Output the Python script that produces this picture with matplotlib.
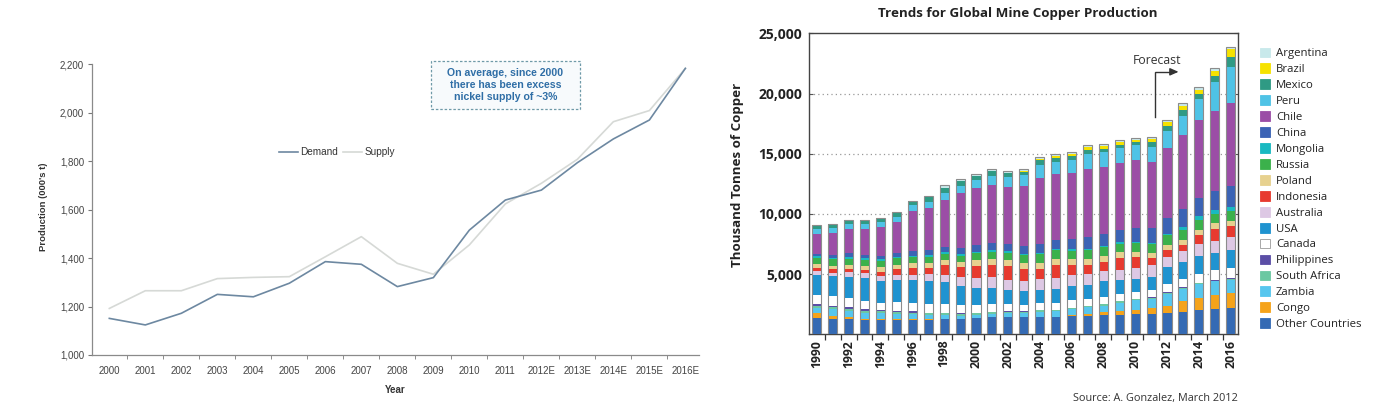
import numpy as np
import matplotlib
matplotlib.use("Agg")
import matplotlib.pyplot as plt
from matplotlib.patches import Patch, FancyBboxPatch
from matplotlib import font_manager as fm

# ---------------- Left chart data (nickel) ----------------
nickel_years = ["2000", "2001", "2002", "2003", "2004", "2005", "2006", "2007", "2008",
                "2009", "2010", "2011", "2012E", "2013E", "2014E", "2015E", "2016E"]
demand = [1151, 1124, 1172, 1250, 1240, 1296, 1385, 1374, 1282, 1319, 1515, 1639,
          1680, 1793, 1891, 1969, 2182]
supply = [1192, 1265, 1265, 1315, 1320, 1323, 1405, 1488, 1378, 1333, 1454, 1623,
          1708, 1807, 1962, 2008, 2182]

# ---------------- Right chart data (copper, thousand tonnes) ----------------
years = list(range(1990, 2017))
other = [1330, 1280, 1280, 1190, 1190, 1190, 1190, 1190, 1250, 1250, 1330, 1400, 1400, 1400,
         1420, 1420, 1500, 1560, 1600, 1620, 1650, 1680, 1750, 1890, 2000, 2110, 2220]
congo = [420, 280, 190, 90, 50, 40, 40, 40, 40, 30, 30, 20, 20, 20, 30, 50, 120, 150, 230,
         320, 400, 480, 640, 890, 1000, 1170, 1200]
zambia = [450, 500, 500, 520, 510, 450, 420, 360, 320, 280, 250, 300, 330, 350, 420, 440,
          480, 520, 560, 700, 770, 760, 960, 1010, 1150, 1110, 1090]
south_africa = [150, 170, 170, 170, 160, 160, 150, 150, 140, 130, 140, 130, 130, 120, 110,
                100, 100, 100, 100, 100, 100, 100, 80, 80, 70, 70, 70]
philippines = [130, 140, 160, 130, 120, 120, 110, 60, 50, 40, 30, 20, 20, 20, 20, 20, 20,
               20, 20, 30, 40, 50, 70, 70, 80, 80, 80]
canada = [820, 850, 720, 700, 610, 720, 680, 700, 700, 690, 630, 640, 600, 560, 560, 600,
          610, 600, 610, 540, 550, 580, 650, 630, 700, 790, 840]
usa = [1600, 1600, 1780, 1870, 1810, 1850, 1920, 1940, 1860, 1600, 1440, 1340, 1140, 1120,
       1160, 1140, 1190, 1170, 1310, 1200, 1120, 1150, 1470, 1440, 1530, 1390, 1530]
australia = [360, 300, 360, 410, 420, 410, 440, 560, 600, 740, 830, 870, 870, 830, 850, 930,
             900, 870, 860, 850, 870, 950, 830, 920, 940, 1030, 1030]
indonesia = [220, 270, 280, 280, 320, 460, 520, 530, 800, 790, 1000, 1050, 1170, 1000, 850,
             1060, 820, 800, 750, 1000, 900, 560, 560, 470, 780, 970, 910]
poland = [320, 280, 280, 330, 360, 380, 420, 420, 430, 460, 460, 470, 500, 500, 530, 520,
          500, 450, 430, 440, 430, 430, 410, 450, 420, 500, 420]
russia = [570, 560, 570, 520, 550, 530, 520, 500, 500, 520, 580, 600, 600, 640, 680, 700,
          720, 740, 750, 740, 720, 750, 800, 850, 830, 750, 830]
mongolia = [130, 120, 120, 120, 120, 120, 120, 120, 120, 120, 130, 130, 130, 130, 130, 130,
            130, 130, 130, 130, 130, 130, 130, 220, 300, 360, 340]
china = [200, 250, 360, 280, 250, 320, 430, 430, 480, 520, 590, 590, 590, 620, 740, 760, 830,
         930, 950, 1000, 1150, 1250, 1320, 1470, 1530, 1590, 1750]
chile = [1620, 1820, 2000, 2140, 2450, 2590, 3320, 3480, 3900, 4550, 4720, 4880, 4700, 5040,
         5460, 5410, 5500, 5700, 5600, 5570, 5610, 5450, 5780, 6200, 6450, 6660, 6860]
peru = [410, 410, 420, 420, 380, 410, 420, 500, 550, 560, 630, 720, 840, 840, 1080, 1010,
        1050, 1240, 1270, 1250, 1250, 1250, 1450, 1580, 1750, 2360, 3000]
mexico = [300, 300, 280, 300, 300, 340, 340, 390, 380, 420, 360, 370, 330, 330, 400, 390,
          340, 340, 250, 240, 250, 400, 400, 460, 410, 500, 830]
brazil = [30, 30, 30, 30, 30, 40, 40, 40, 40, 30, 30, 30, 30, 30, 100, 130, 150, 200, 220,
          230, 220, 280, 300, 370, 340, 420, 700]
argentina = [20, 20, 20, 20, 20, 20, 20, 60, 200, 210, 150, 190, 200, 200, 180, 190, 180,
             180, 160, 140, 140, 170, 180, 200, 220, 220, 200]

# stacking order bottom -> top
series = [
    ("Other Countries", other, "#346ab4"),
    ("Congo", congo, "#f5a31a"),
    ("Zambia", zambia, "#56c6ee"),
    ("South Africa", south_africa, "#6cc8a2"),
    ("Philippines", philippines, "#5b4ea6"),
    ("Canada", canada, "#ffffff"),
    ("USA", usa, "#1f93d0"),
    ("Australia", australia, "#ddc8e4"),
    ("Indonesia", indonesia, "#e73a2f"),
    ("Poland", poland, "#e7d18f"),
    ("Russia", russia, "#3bb14b"),
    ("Mongolia", mongolia, "#19b9c1"),
    ("China", china, "#3b63b5"),
    ("Chile", chile, "#9b4ea6"),
    ("Peru", peru, "#4fc3e6"),
    ("Mexico", mexico, "#2f9a84"),
    ("Brazil", brazil, "#f6e200"),
    ("Argentina", argentina, "#c8e9eb"),
]

# pick a family that really has a bold face
def has_bold(fam):
    for f in fm.fontManager.ttflist:
        if f.name == fam and f.weight in (600, 700, 800, "bold", "semibold"):
            return True
    return False

rf = "Noto Sans"
for cand in ["Open Sans", "Noto Sans", "Lato", "DejaVu Sans"]:
    if has_bold(cand):
        rf = cand
        break
lf = "Liberation Sans"

fig = plt.figure(figsize=(13.76, 4.07), dpi=100)
W, H = 1376.0, 407.0

# ================= LEFT CHART =================
axL = fig.add_axes([92.4 / W, 1 - 355 / H, 606.3 / W, 291 / H])
xi = np.arange(len(nickel_years))
axL.plot(xi, supply, color="#d6d9d6", lw=1.2, zorder=2)
axL.plot(xi, demand, color="#6d88a1", lw=1.2, zorder=3)
axL.set_xlim(-0.47, 16.37)
axL.set_ylim(1000, 2200)
axL.set_yticks(range(1000, 2201, 200))
axL.set_yticklabels([f"{v:,}" for v in range(1000, 2201, 200)], fontsize=7,
                    color="#444444", family=lf)
axL.set_xticks(xi)
axL.set_xticklabels(nickel_years, fontsize=7, color="#444444", family=lf)
axL.set_xticks(np.arange(0.5, 16.5, 1), minor=True)
axL.tick_params(axis="x", which="major", length=0, pad=8)
axL.tick_params(axis="x", which="minor", length=3, color="#777777", direction="out")
axL.tick_params(axis="y", length=3, color="#777777", pad=3)
for s in ["top", "right"]:
    axL.spines[s].set_visible(False)
for s in ["left", "bottom"]:
    axL.spines[s].set_color("#8a8a8a")
    axL.spines[s].set_linewidth(0.9)

h_d, = axL.plot([], [], color="#6d88a1", lw=1.2)
h_s, = axL.plot([], [], color="#d6d9d6", lw=1.2)
axL.legend([h_d, h_s], ["Demand", "Supply"], ncol=2, frameon=False,
           loc="center", bbox_to_anchor=((337 - 92.4) / 606.3, (355 - 152) / 291),
           prop={"family": lf, "size": 7.2}, handlelength=1.9, handletextpad=0.25,
           columnspacing=0.5, labelcolor="#333333")

fig.text(43.8 / W, 1 - 207 / H, "Production (000's t)", rotation=90, ha="center",
         va="center", fontsize=6.8, fontweight="bold", color="#333333", family=lf)
fig.text(395 / W, 1 - 390 / H, "Year", ha="center", va="center", fontsize=7,
         fontweight="bold", color="#333333", family=lf)

box = FancyBboxPatch((431 / W, 1 - 109.3 / H), 149 / W, 48.6 / H,
                     boxstyle="square,pad=0", transform=fig.transFigure,
                     facecolor="#f7fafc", edgecolor="#6f9aa8", lw=0.9,
                     linestyle=(0, (2, 1.5)))
fig.add_artist(box)
fig.text(505.5 / W, 1 - 85 / H,
         "On average, since 2000\nthere has been excess\nnickel supply of ~3%",
         ha="center", va="center", fontsize=7.6, fontweight="bold", color="#2f6ea6",
         family=lf, linespacing=1.3)

# ================= RIGHT CHART =================
axR = fig.add_axes([809.3 / W, 1 - 334.3 / H, 429 / W, 301 / H])
bw = 0.57
bottom = np.zeros(len(years))
for name, vals, col in series:
    axR.bar(years, vals, bw, bottom=bottom, color=col, lw=0, zorder=3)
    bottom += np.array(vals, dtype=float)
axR.bar(years, bottom, bw, fill=False, edgecolor="#8c8c8c", lw=0.8, zorder=4)

axR.set_xlim(1989.53, 2016.48)
axR.set_ylim(0, 25000)
yt = [5000, 10000, 15000, 20000, 25000]
axR.set_yticks(yt)
axR.set_yticklabels([f"{v:,}" for v in yt], fontsize=10, fontweight="bold",
                    family=rf, color="#222222")
for v in yt[:-1]:
    axR.axhline(v, color="#999999", lw=0.9, ls=(0, (1, 2.5)), zorder=1)
axR.set_xticks(years[::2])
axR.set_xticklabels([str(y) for y in years[::2]], rotation=90, fontsize=8.8,
                    fontweight="bold", family=rf, color="#222222")
axR.set_xticks(np.arange(1990.5, 2016, 1), minor=True)
axR.tick_params(axis="x", which="major", length=0, pad=4)
axR.tick_params(axis="x", which="minor", length=4, color="#333333", direction="out",
                width=0.9)
axR.tick_params(axis="y", length=3, direction="in", right=True, color="#555555", pad=5)
for s in axR.spines.values():
    s.set_color("#444444")
    s.set_linewidth(1.0)

fig.text(738 / W, 1 - 175 / H, "Thousand Tonnes of Copper", rotation=90, ha="center",
         va="center", fontsize=9.6, fontweight="bold", family=rf, color="#222222")
fig.text(1018 / W, 1 - 14 / H, "Trends for Global Mine Copper Production", ha="center",
         va="center", fontsize=9.6, fontweight="bold", family=rf, color="#222222")
fig.text(1238 / W, 1 - 398 / H, "Source: A. Gonzalez, March 2012", ha="right",
         va="center", fontsize=7.8, family=rf, color="#333333")

# forecast arrow
axR.plot([2011.25, 2011.25, 2012.3], [18025, 21800, 21800], color="#333333", lw=1.0,
         zorder=5, solid_joinstyle="miter")
axR.annotate("", xy=(2012.9, 21800), xytext=(2012.2, 21800),
             arrowprops=dict(arrowstyle="-|>,head_length=0.5,head_width=0.22",
                             color="#333333", lw=1.0), zorder=5)
axR.text(2009.87, 22775, "Forecast", ha="left", va="center", fontsize=8.8, family=rf,
         color="#333333", zorder=5)

handles = []
for name, vals, col in reversed(series):
    ec = "#9a9a9a" if name == "Canada" else col
    handles.append(Patch(facecolor=col, edgecolor=ec, lw=0.6, label=name))
fig.legend(handles=handles, loc="upper left", bbox_to_anchor=(1255 / W, 1 - 43 / H),
           frameon=False, prop={"family": rf, "size": 8.2}, handlelength=0.95,
           handleheight=0.95, handletextpad=0.5, labelspacing=0.36, borderaxespad=0,
           labelcolor="#222222")

fig.savefig("out.png", dpi=100)
